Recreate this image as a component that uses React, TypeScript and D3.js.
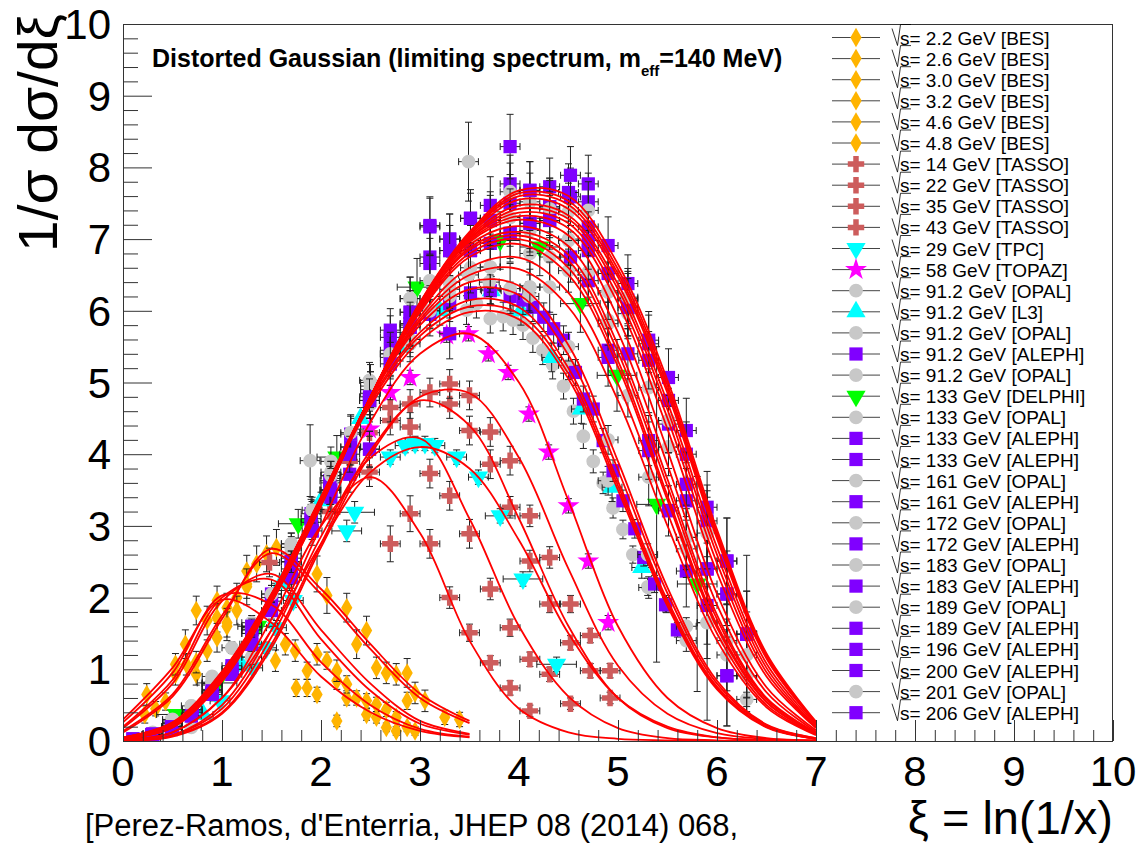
import React from 'react';
import * as d3 from 'd3';

// ---------------- axes ----------------
const X_TICKS = [0, 1, 2, 3, 4, 5, 6, 7, 8, 9, 10];
const Y_TICKS = [0, 1, 2, 3, 4, 5, 6, 7, 8, 9, 10];

const FIT_GRID_BES = [0, 0.5, 1, 1.5, 2, 2.5, 3, 3.5];
const FIT_GRID = [0, 0.5, 1, 1.5, 2, 2.5, 3, 3.5, 4, 4.5, 5, 5.5, 6, 6.5, 7];

const FIT_BES_2_2 = [0.3, 1.02, 1.97, 1.65, 0.9, 0.4, 0.14, 0.05];
const FIT_BES_2_6 = [0.26, 0.95, 2.03, 1.9, 1.1, 0.5, 0.17, 0.06];
const FIT_BES_3_0 = [0.2, 0.85, 2.0, 2.25, 1.42, 0.7, 0.24, 0.09];
const FIT_BES_3_2 = [0.18, 0.8, 1.95, 2.33, 1.55, 0.8, 0.28, 0.1];
const FIT_BES_4_6 = [0.14, 0.65, 1.75, 2.62, 2.05, 1.28, 0.6, 0.25];
const FIT_BES_4_8 = [0.12, 0.62, 1.7, 2.68, 2.12, 1.35, 0.66, 0.28];

const FIT_TASSO_14 = [0.02, 0.12, 0.6, 1.7, 3.0, 3.68, 2.9, 1.4, 0.45, 0.12, 0.03, 0.01, 0, 0, 0];
const FIT_TASSO_22 = [0.01, 0.08, 0.45, 1.45, 2.85, 3.95, 4.22, 3.1, 1.6, 0.62, 0.18, 0.04, 0.01, 0, 0];
const FIT_TASSO_35 = [0.01, 0.07, 0.4, 1.35, 2.75, 4.05, 4.75, 4.4, 3.1, 1.6, 0.6, 0.18, 0.05, 0.01, 0];
const FIT_TASSO_43 = [0.01, 0.06, 0.38, 1.3, 2.7, 4.0, 4.8, 4.85, 3.95, 2.4, 1.05, 0.38, 0.11, 0.03, 0.01];
const FIT_TPC_29 = [0.01, 0.12, 0.6, 1.55, 2.75, 3.75, 4.1, 3.8, 2.8, 1.5, 0.6, 0.2, 0.05, 0.01, 0];
const FIT_TOPAZ_58 = [0.01, 0.08, 0.5, 1.55, 3.0, 4.45, 5.4, 5.68, 5.0, 3.35, 1.6, 0.6, 0.18, 0.04, 0.01];

const FIT_OPAL_91_A = [0.05, 0.26, 0.97, 2.05, 3.38, 4.68, 5.58, 5.98, 5.88, 5.05, 3.5, 1.88, 0.72, 0.19, 0.03];
const FIT_L3_91 = [0.05, 0.25, 0.96, 2.05, 3.4, 4.72, 5.65, 6.06, 5.96, 5.12, 3.56, 1.92, 0.74, 0.2, 0.03];
const FIT_OPAL_91_B = [0.05, 0.25, 0.95, 2.04, 3.4, 4.75, 5.7, 6.15, 6.05, 5.2, 3.62, 1.96, 0.76, 0.2, 0.03];
const FIT_ALEPH_91 = [0.04, 0.24, 0.94, 2.03, 3.4, 4.78, 5.8, 6.3, 6.22, 5.38, 3.78, 2.06, 0.8, 0.22, 0.04];
const FIT_OPAL_91_C = [0.04, 0.24, 0.93, 2.02, 3.39, 4.78, 5.85, 6.4, 6.35, 5.52, 3.9, 2.14, 0.84, 0.23, 0.04];
const FIT_DELPHI_133 = [0.04, 0.23, 0.92, 2.01, 3.37, 4.78, 5.88, 6.5, 6.58, 6.05, 4.75, 3.0, 1.4, 0.47, 0.08];
const FIT_OPAL_133 = [0.04, 0.23, 0.91, 2.0, 3.36, 4.79, 5.92, 6.6, 6.74, 6.25, 4.98, 3.18, 1.5, 0.5, 0.09];
const FIT_ALEPH_133_A = [0.04, 0.22, 0.9, 2.0, 3.35, 4.8, 5.98, 6.75, 6.93, 6.5, 5.22, 3.36, 1.58, 0.54, 0.1];
const FIT_ALEPH_133_B = [0.04, 0.22, 0.9, 1.99, 3.35, 4.8, 6.0, 6.8, 7.0, 6.6, 5.3, 3.42, 1.62, 0.55, 0.1];
const FIT_OPAL_161 = [0.04, 0.22, 0.89, 1.99, 3.34, 4.8, 6.02, 6.85, 7.05, 6.7, 5.42, 3.55, 1.7, 0.58, 0.11];
const FIT_ALEPH_161 = [0.04, 0.21, 0.89, 1.98, 3.34, 4.8, 6.03, 6.88, 7.1, 6.78, 5.52, 3.65, 1.76, 0.6, 0.12];
const FIT_OPAL_172 = [0.04, 0.21, 0.88, 1.98, 3.33, 4.8, 6.05, 6.92, 7.18, 6.9, 5.7, 3.85, 1.9, 0.68, 0.13];
const FIT_ALEPH_172 = [0.03, 0.21, 0.87, 1.97, 3.32, 4.8, 6.07, 6.96, 7.27, 7.05, 5.9, 4.05, 2.05, 0.75, 0.15];
const FIT_OPAL_183 = [0.03, 0.2, 0.86, 1.96, 3.31, 4.8, 6.08, 6.98, 7.32, 7.15, 6.1, 4.35, 2.35, 0.9, 0.18];
const FIT_ALEPH_183 = [0.03, 0.2, 0.86, 1.96, 3.31, 4.8, 6.09, 7.0, 7.37, 7.22, 6.2, 4.5, 2.48, 0.96, 0.19];
const FIT_OPAL_189 = [0.03, 0.2, 0.86, 1.95, 3.3, 4.8, 6.09, 7.01, 7.42, 7.28, 6.3, 4.62, 2.6, 1.02, 0.2];
const FIT_ALEPH_189 = [0.03, 0.2, 0.85, 1.95, 3.3, 4.8, 6.1, 7.03, 7.47, 7.33, 6.37, 4.72, 2.7, 1.08, 0.22];
const FIT_ALEPH_196 = [0.03, 0.2, 0.85, 1.95, 3.3, 4.8, 6.1, 7.05, 7.55, 7.42, 6.47, 4.85, 2.82, 1.15, 0.24];
const FIT_ALEPH_200 = [0.03, 0.19, 0.84, 1.94, 3.29, 4.8, 6.11, 7.07, 7.6, 7.48, 6.52, 4.9, 2.86, 1.17, 0.25];
const FIT_OPAL_201 = [0.03, 0.19, 0.84, 1.94, 3.29, 4.8, 6.11, 7.08, 7.64, 7.53, 6.58, 4.96, 2.9, 1.2, 0.26];
const FIT_ALEPH_206 = [0.02, 0.19, 0.83, 1.93, 3.28, 4.8, 6.12, 7.1, 7.68, 7.6, 6.65, 5.03, 2.95, 1.22, 0.27];

// ---------------- measured points: [xi, value, yError, (xError)] ----------------
const BES_2_2 = [[0.22, 0.37, 0.12], [0.53, 0.93, 0.15], [0.74, 1.82, 0.2], [0.95, 1.96, 0.2], [1.15, 2.0, 0.2], [1.54, 1.12, 0.15], [1.75, 0.74, 0.12], [1.96, 0.65, 0.1], [2.16, 0.28, 0.08], [2.46, 0.37, 0.08], [2.66, 0.19, 0.06], [2.87, 0.19, 0.06]];
const BES_2_6 = [[0.24, 0.65, 0.15], [0.64, 1.07, 0.15], [0.85, 1.68, 0.2], [1.05, 1.86, 0.2], [1.25, 2.19, 0.2], [1.74, 1.26, 0.15], [1.86, 0.74, 0.12], [2.06, 1.12, 0.12], [2.26, 0.6, 0.1], [2.56, 0.33, 0.08], [2.76, 0.14, 0.06], [2.95, 0.14, 0.06]];
const BES_3_0 = [[0.53, 1.07, 0.15], [0.74, 0.93, 0.15], [0.95, 1.72, 0.2], [1.15, 1.82, 0.2], [1.25, 2.37, 0.22], [1.64, 1.35, 0.15], [1.86, 0.98, 0.12], [2.16, 0.84, 0.12], [2.36, 0.6, 0.1], [2.56, 0.51, 0.1], [2.76, 0.33, 0.08]];
const BES_3_2 = [[0.63, 1.35, 0.2], [0.85, 1.26, 0.15], [1.05, 1.65, 0.2], [1.35, 2.47, 0.25], [1.96, 1.21, 0.15], [2.16, 0.98, 0.15], [2.26, 0.79, 0.12], [2.46, 0.56, 0.1], [2.66, 0.44, 0.1], [2.87, 0.56, 0.12]];
const BES_4_6 = [[0.43, 0.55, 0.12], [0.74, 1.1, 0.15], [1.05, 1.6, 0.2], [1.45, 2.61, 0.25], [2.06, 2.03, 0.25], [2.36, 1.35, 0.2], [2.66, 0.95, 0.15], [2.87, 0.95, 0.2], [2.95, 0.67, 0.15], [3.25, 0.33, 0.1]];
const BES_4_8 = [[0.33, 0.45, 0.1], [0.95, 1.44, 0.2], [1.25, 2.15, 0.25], [1.55, 2.7, 0.25], [1.96, 2.33, 0.25], [2.26, 1.86, 0.2], [2.46, 1.54, 0.2], [2.56, 1.02, 0.15], [2.76, 0.93, 0.15], [3.05, 0.56, 0.15], [3.4, 0.3, 0.1]];

const TASSO_14 = [[1.28, 1.35, 0.15], [1.68, 2.3, 0.2], [2.70, 2.75, 0.25], [2.90, 3.17, 0.25], [3.10, 2.75, 0.2], [3.30, 2.0, 0.15], [3.50, 1.51, 0.12], [3.71, 1.09, 0.1], [3.91, 0.74, 0.1], [4.11, 0.42, 0.08]];
const TASSO_22 = [[1.48, 2.49, 0.2], [2.09, 3.2, 0.2], [2.49, 3.75, 0.2], [3.10, 3.73, 0.2], [3.30, 3.42, 0.2], [3.50, 2.89, 0.2], [3.71, 2.12, 0.15], [3.91, 1.58, 0.12], [4.11, 1.14, 0.1], [4.31, 0.93, 0.1], [4.52, 0.52, 0.08]];
const TASSO_35 = [[2.29, 3.9, 0.2], [2.49, 4.3, 0.2], [2.70, 4.47, 0.2], [2.90, 4.38, 0.2], [3.30, 4.7, 0.2], [3.50, 4.33, 0.2], [3.71, 3.86, 0.2], [3.91, 3.26, 0.15], [4.11, 2.51, 0.15], [4.31, 1.91, 0.12], [4.52, 1.37, 0.1], [4.72, 0.98, 0.1], [4.92, 0.6, 0.08]];
const TASSO_43 = [[2.70, 4.65, 0.2], [2.90, 4.7, 0.2], [3.10, 4.86, 0.2], [3.30, 4.98, 0.2], [3.50, 4.82, 0.2], [3.71, 4.31, 0.2], [3.91, 3.91, 0.2], [4.11, 3.14, 0.15], [4.31, 2.56, 0.15], [4.52, 1.91, 0.12], [4.72, 1.47, 0.1], [4.92, 0.98, 0.1]];
const TPC_29 = [[0.98, 0.56, 0.05], [1.31, 1.02, 0.08], [1.45, 1.3, 0.08], [1.55, 1.58, 0.1], [1.72, 1.96, 0.1], [2.26, 2.93, 0.15, 0.15], [2.34, 3.19, 0.15, 0.2], [2.70, 3.96, 0.1], [2.85, 4.12, 0.1], [2.95, 4.15, 0.1], [3.05, 4.15, 0.1], [3.15, 4.12, 0.1], [3.37, 3.96, 0.1], [3.59, 3.68, 0.1], [3.81, 3.14, 0.1, 0.15], [4.04, 2.26, 0.1, 0.2], [4.38, 1.07, 0.1, 0.2]];
const TOPAZ_58 = [[2.49, 4.35, 0.1], [2.70, 4.86, 0.1], [2.90, 5.07, 0.1], [3.27, 5.66, 0.1], [3.49, 5.68, 0.1], [3.69, 5.40, 0.1], [3.89, 5.14, 0.1], [4.10, 4.56, 0.1], [4.30, 4.03, 0.1], [4.50, 3.28, 0.1], [4.70, 2.51, 0.1], [4.90, 1.65, 0.1]];

const OPAL_91_A = [[0.3, 0.12, 0.02], [0.49, 0.3, 0.03], [0.69, 0.49, 0.04], [0.9, 0.84, 0.05], [1.1, 1.3, 0.06], [1.3, 1.58, 0.07], [1.5, 2.05, 0.08], [1.7, 2.61, 0.1], [1.91, 3.22, 0.12], [2.1, 3.7, 0.12], [2.3, 4.2, 0.15], [2.5, 4.7, 0.15], [2.7, 5.35, 0.15], [2.9, 5.54, 0.18], [3.1, 5.96, 0.2], [3.3, 6.05, 0.2], [3.47, 6.01, 0.2], [3.57, 6.1, 0.2], [3.71, 5.89, 0.2], [3.84, 5.92, 0.2], [3.94, 5.87, 0.2], [4.04, 5.8, 0.2], [4.14, 5.62, 0.2], [4.24, 5.45, 0.2], [4.34, 5.25, 0.2], [4.45, 4.95, 0.18], [4.55, 4.6, 0.18], [4.65, 4.25, 0.17], [4.75, 3.9, 0.16], [4.85, 3.6, 0.15], [4.95, 3.25, 0.14], [5.05, 2.95, 0.13], [5.15, 2.6, 0.12], [5.3, 2.15, 0.12], [5.49, 1.91, 0.12]];
const L3_91 = [[0.81, 0.37, 0.04], [1.2, 1.05, 0.07], [1.6, 2.2, 0.1], [2.0, 3.35, 0.12], [2.4, 4.5, 0.15], [2.8, 5.5, 0.2], [3.2, 6.0, 0.2], [3.72, 6.28, 0.2], [4.02, 6.0, 0.2], [4.33, 5.35, 0.2], [4.63, 4.63, 0.2], [4.94, 3.54, 0.2], [5.24, 2.42, 0.15]];
const OPAL_91_B = [[0.69, 0.19, 0.03], [1.3, 1.17, 0.06], [1.89, 3.91, 0.5], [2.3, 4.1, 0.15], [2.7, 5.4, 0.2], [3.1, 6.0, 0.2], [3.3, 6.4, 0.2], [3.71, 6.3, 0.2], [4.11, 6.33, 0.25], [4.5, 5.24, 0.2], [4.9, 3.63, 0.2], [5.31, 2.14, 0.15], [5.69, 1.4, 0.15], [6.3, 0.58, 0.1]];
const ALEPH_91 = [[0.1, 0.03, 0.01], [0.29, 0.09, 0.02], [0.49, 0.16, 0.02], [0.69, 0.35, 0.03], [0.9, 0.65, 0.04], [1.1, 0.93, 0.05], [1.3, 1.35, 0.06], [1.5, 1.82, 0.08], [1.7, 2.28, 0.1], [1.91, 2.93, 0.12], [2.09, 3.63, 0.12], [2.29, 4.0, 0.15], [2.49, 4.75, 0.15], [2.7, 5.26, 0.18], [2.9, 5.77, 0.18], [3.1, 5.95, 0.2], [3.3, 6.1, 0.2], [3.51, 6.25, 0.2], [3.71, 6.28, 0.2], [3.91, 6.2, 0.2], [4.04, 6.15, 0.2], [4.14, 6.05, 0.2], [4.25, 5.91, 0.2], [4.35, 5.75, 0.2], [4.45, 5.59, 0.2], [4.57, 5.14, 0.18], [4.65, 4.77, 0.18], [4.75, 4.63, 0.18], [4.85, 4.19, 0.17], [4.95, 3.77, 0.15], [5.05, 3.35, 0.15], [5.17, 2.96, 0.13], [5.26, 2.56, 0.12], [5.37, 2.19, 0.12], [5.48, 1.9, 0.1], [5.6, 1.55, 0.1]];
const OPAL_91_C = [[0.5, 0.25, 0.03], [0.9, 0.8, 0.05], [1.3, 1.5, 0.07], [1.7, 2.55, 0.1], [2.1, 3.5, 0.12], [2.5, 4.85, 0.15], [2.9, 5.6, 0.18], [3.3, 6.2, 0.2], [3.7, 6.4, 0.2], [4.1, 6.2, 0.2], [4.5, 5.5, 0.2], [4.9, 4.2, 0.2], [5.3, 2.6, 0.15], [5.69, 1.6, 0.12]];
const DELPHI_133 = [[0.18, 0.03, 0.02], [0.54, 0.37, 0.05], [0.95, 0.81, 0.07], [1.36, 1.6, 0.1], [1.77, 3.03, 0.2], [2.16, 3.96, 0.3], [2.97, 6.33, 0.4], [3.81, 6.98, 0.4], [4.21, 6.89, 0.4], [4.62, 6.1, 0.4], [4.99, 5.1, 0.5], [5.39, 3.3, 2.2], [5.8, 2.19, 1.5]];
const OPAL_133 = [[0.5, 0.28, 0.03], [0.9, 0.82, 0.05], [1.3, 1.6, 0.08], [1.7, 2.7, 0.12], [2.1, 3.75, 0.15], [2.5, 4.95, 0.2], [2.9, 5.54, 0.25], [3.3, 6.3, 0.3], [3.71, 6.61, 0.3], [4.11, 6.8, 0.3], [4.5, 6.56, 0.3], [4.9, 5.82, 0.3], [5.1, 4.82, 0.3], [5.51, 4.1, 0.3], [5.9, 1.65, 0.3], [6.3, 0.91, 0.3]];
const ALEPH_133_A = [[0.3, 0.1, 0.02], [0.7, 0.44, 0.04], [1.1, 1.05, 0.08], [1.5, 2.05, 0.12], [1.9, 3.17, 0.2], [2.3, 4.28, 0.25], [2.7, 5.63, 0.3], [3.1, 6.66, 0.35], [3.51, 6.84, 0.35], [3.91, 7.08, 0.35], [4.31, 7.26, 0.35], [4.7, 6.42, 0.35], [5.1, 5.4, 0.35], [5.51, 3.21, 0.35], [5.9, 1.89, 1.6], [6.1, 0.91, 0.7]];
const ALEPH_133_B = [[0.5, 0.2, 0.03], [0.9, 0.72, 0.06], [1.3, 1.55, 0.1], [1.7, 2.5, 0.15], [2.09, 3.5, 0.2], [2.49, 4.07, 0.25], [2.9, 5.82, 0.3], [3.3, 5.68, 0.35], [3.71, 6.94, 0.35], [4.11, 7.22, 0.35], [4.52, 6.75, 0.35], [4.9, 5.45, 0.35], [5.31, 4.19, 0.35], [5.69, 2.37, 0.5], [6.1, 2.05, 0.5]];
const OPAL_161 = [[0.5, 0.3, 0.04], [0.9, 0.9, 0.07], [1.3, 1.65, 0.1], [1.7, 2.75, 0.15], [2.1, 3.9, 0.2], [2.49, 5.03, 0.25], [2.9, 6.17, 0.3], [3.51, 6.98, 0.35], [4.11, 7.12, 0.35], [4.31, 6.75, 0.35], [4.7, 6.54, 0.35], [5.1, 5.96, 0.35], [5.51, 4.47, 0.35], [5.69, 2.84, 0.4], [6.1, 1.4, 0.5]];
const ALEPH_161 = [[0.3, 0.08, 0.02], [0.7, 0.42, 0.05], [1.1, 1.0, 0.08], [1.5, 1.95, 0.12], [1.9, 3.05, 0.18], [2.29, 3.72, 0.25], [2.7, 5.45, 0.3], [3.1, 6.75, 0.35], [3.51, 7.29, 0.35], [3.91, 7.5, 0.4], [4.31, 7.45, 0.4], [4.7, 6.84, 0.4], [5.1, 6.05, 0.4], [5.51, 4.75, 0.4], [5.9, 2.4, 0.5], [6.3, 1.49, 1.1]];
const OPAL_172 = [[0.5, 0.22, 0.03], [0.9, 0.78, 0.06], [1.3, 1.17, 0.1], [1.7, 2.61, 0.15], [2.1, 3.6, 0.2], [2.7, 5.35, 0.3], [3.1, 6.42, 0.35], [3.51, 6.6, 0.35], [3.91, 6.31, 0.35], [4.11, 6.33, 0.35], [4.5, 6.98, 0.35], [4.9, 6.26, 0.35], [5.31, 4.93, 0.35], [5.69, 2.68, 0.4], [6.1, 1.2, 0.5]];
const ALEPH_172 = [[0.5, 0.18, 0.03], [0.9, 0.68, 0.06], [1.3, 1.5, 0.1], [1.7, 2.4, 0.15], [2.1, 3.4, 0.2], [2.49, 4.75, 0.25], [2.9, 5.98, 0.3], [3.3, 6.84, 0.35], [3.71, 7.26, 0.35], [4.11, 7.68, 0.4], [4.52, 7.59, 0.4], [4.9, 6.52, 0.4], [5.31, 5.54, 0.4], [5.69, 3.35, 0.45], [6.1, 2.51, 0.6]];
const OPAL_183 = [[0.5, 0.25, 0.04], [0.9, 0.8, 0.07], [1.3, 1.58, 0.1], [1.7, 2.7, 0.15], [2.1, 3.7, 0.2], [2.5, 4.9, 0.25], [2.9, 5.8, 0.3], [3.3, 6.4, 0.35], [3.71, 6.61, 0.35], [4.31, 6.33, 0.35], [4.5, 7.0, 0.35], [4.9, 5.87, 0.35], [5.1, 6.17, 0.35], [5.51, 4.1, 0.4], [5.9, 1.65, 0.5]];
const ALEPH_183 = [[0.3, 0.09, 0.02], [0.7, 0.4, 0.05], [1.1, 1.0, 0.08], [1.5, 2.0, 0.12], [1.9, 3.1, 0.2], [2.3, 4.1, 0.25], [2.7, 5.73, 0.3], [3.1, 7.17, 0.4], [3.51, 6.84, 0.4], [3.91, 7.77, 0.4], [4.31, 7.73, 0.4], [4.7, 7.17, 0.4], [5.1, 6.15, 0.4], [5.51, 5.07, 0.4], [5.9, 3.07, 0.5], [6.3, 1.49, 0.6]];
const OPAL_189 = [[0.69, 0.49, 0.05], [1.1, 1.3, 0.08], [1.5, 2.05, 0.12], [1.91, 3.22, 0.18], [2.3, 4.3, 0.25], [2.7, 5.4, 0.3], [3.1, 6.0, 0.35], [3.49, 6.5, 0.35], [3.91, 7.66, 0.4], [4.11, 7.52, 0.4], [4.5, 7.38, 0.4], [4.9, 6.28, 0.4], [5.31, 3.68, 0.4], [5.69, 2.84, 0.45], [6.3, 0.91, 0.5]];
const ALEPH_189 = [[0.49, 0.16, 0.03], [0.9, 0.65, 0.06], [1.3, 1.35, 0.1], [1.7, 2.28, 0.15], [2.09, 3.63, 0.2], [2.49, 4.07, 0.25], [2.9, 5.77, 0.3], [3.3, 7.0, 0.35], [3.71, 7.47, 0.4], [4.11, 7.22, 0.4], [4.5, 7.65, 0.4], [4.7, 7.52, 0.4], [5.1, 6.38, 0.4], [5.31, 5.31, 0.4], [5.69, 4.33, 0.45], [5.9, 3.26, 0.5], [6.3, 1.49, 0.6]];
const ALEPH_196 = [[0.29, 0.09, 0.02], [0.69, 0.35, 0.05], [1.1, 0.93, 0.08], [1.5, 1.82, 0.12], [1.91, 2.93, 0.2], [2.29, 4.0, 0.25], [2.7, 5.26, 0.3], [3.1, 7.19, 0.4], [3.51, 7.29, 0.4], [3.91, 7.08, 0.4], [4.31, 7.45, 0.4], [4.7, 7.77, 0.4], [5.1, 6.05, 0.4], [5.51, 4.42, 0.4], [5.9, 2.4, 0.5], [6.1, 2.05, 0.6]];
const ALEPH_200 = [[0.49, 0.2, 0.03], [0.9, 0.7, 0.06], [1.3, 1.55, 0.1], [1.7, 2.5, 0.15], [2.1, 3.5, 0.2], [2.49, 4.75, 0.25], [2.9, 5.98, 0.3], [3.3, 7.0, 0.35], [3.71, 7.26, 0.4], [4.11, 7.68, 0.4], [4.52, 7.89, 0.4], [4.9, 6.91, 0.4], [5.31, 5.59, 0.4], [5.69, 4.0, 0.45], [6.1, 2.51, 0.6]];
const OPAL_201 = [[0.5, 0.25, 0.04], [0.9, 0.8, 0.07], [1.3, 1.58, 0.1], [1.7, 2.75, 0.15], [2.1, 3.7, 0.2], [2.5, 5.0, 0.25], [2.9, 6.17, 0.3], [3.49, 8.08, 0.55], [3.91, 7.3, 0.4], [4.31, 7.42, 0.4], [4.7, 7.4, 0.4], [5.1, 6.19, 0.4], [5.51, 4.47, 0.45], [5.9, 2.9, 0.5], [6.3, 1.2, 0.6]];
const ALEPH_206 = [[0.1, 0.03, 0.01], [0.49, 0.2, 0.03], [0.9, 0.7, 0.06], [1.3, 1.6, 0.1], [1.7, 2.5, 0.15], [2.09, 3.5, 0.2], [2.49, 4.8, 0.25], [2.9, 5.82, 0.3], [3.3, 6.84, 0.35], [3.91, 8.29, 0.45], [4.31, 7.26, 0.4], [4.7, 6.98, 0.4], [4.9, 5.35, 0.4], [5.31, 4.05, 0.4], [5.69, 3.58, 0.45], [6.1, 0.91, 0.7]];

// ---------------- colours ----------------
const C_BES = '#ffb400';
const C_TASSO = '#cd5c5c';
const C_CYAN = '#00ffff';
const C_MAG = '#ff00ff';
const C_OPAL = '#c8c8c8';
const C_ALEPH = '#8000ff';
const C_DELPHI = '#00ff00';

type Series = { label: string; marker: string; color: string; data: number[][]; ex: number; fit: number[]; grid: number[] };

const S = (label: string, marker: string, color: string, data: number[][], ex: number, fit: number[], grid: number[]): Series => ({ label, marker, color, data, ex, fit, grid });

const SERIES: Series[] = [
  S('2.2 GeV [BES]', 'diamond', C_BES, BES_2_2, 0, FIT_BES_2_2, FIT_GRID_BES),
  S('2.6 GeV [BES]', 'diamond', C_BES, BES_2_6, 0, FIT_BES_2_6, FIT_GRID_BES),
  S('3.0 GeV [BES]', 'diamond', C_BES, BES_3_0, 0, FIT_BES_3_0, FIT_GRID_BES),
  S('3.2 GeV [BES]', 'diamond', C_BES, BES_3_2, 0, FIT_BES_3_2, FIT_GRID_BES),
  S('4.6 GeV [BES]', 'diamond', C_BES, BES_4_6, 0, FIT_BES_4_6, FIT_GRID_BES),
  S('4.8 GeV [BES]', 'diamond', C_BES, BES_4_8, 0, FIT_BES_4_8, FIT_GRID_BES),
  S('14 GeV [TASSO]', 'cross', C_TASSO, TASSO_14, 0.1, FIT_TASSO_14, FIT_GRID),
  S('22 GeV [TASSO]', 'cross', C_TASSO, TASSO_22, 0.1, FIT_TASSO_22, FIT_GRID),
  S('35 GeV [TASSO]', 'cross', C_TASSO, TASSO_35, 0.1, FIT_TASSO_35, FIT_GRID),
  S('43 GeV [TASSO]', 'cross', C_TASSO, TASSO_43, 0.1, FIT_TASSO_43, FIT_GRID),
  S('29 GeV [TPC]', 'tdown', C_CYAN, TPC_29, 0.1, FIT_TPC_29, FIT_GRID),
  S('58 GeV [TOPAZ]', 'star', C_MAG, TOPAZ_58, 0, FIT_TOPAZ_58, FIT_GRID),
  S('91.2 GeV [OPAL]', 'circle', C_OPAL, OPAL_91_A, 0.05, FIT_OPAL_91_A, FIT_GRID),
  S('91.2 GeV [L3]', 'tup', C_CYAN, L3_91, 0.1, FIT_L3_91, FIT_GRID),
  S('91.2 GeV [OPAL]', 'circle', C_OPAL, OPAL_91_B, 0.1, FIT_OPAL_91_B, FIT_GRID),
  S('91.2 GeV [ALEPH]', 'square', C_ALEPH, ALEPH_91, 0.05, FIT_ALEPH_91, FIT_GRID),
  S('91.2 GeV [OPAL]', 'circle', C_OPAL, OPAL_91_C, 0.1, FIT_OPAL_91_C, FIT_GRID),
  S('133 GeV [DELPHI]', 'tdown', C_DELPHI, DELPHI_133, 0.2, FIT_DELPHI_133, FIT_GRID),
  S('133 GeV [OPAL]', 'circle', C_OPAL, OPAL_133, 0.1, FIT_OPAL_133, FIT_GRID),
  S('133 GeV [ALEPH]', 'square', C_ALEPH, ALEPH_133_A, 0.1, FIT_ALEPH_133_A, FIT_GRID),
  S('133 GeV [ALEPH]', 'square', C_ALEPH, ALEPH_133_B, 0.1, FIT_ALEPH_133_B, FIT_GRID),
  S('161 GeV [OPAL]', 'circle', C_OPAL, OPAL_161, 0.1, FIT_OPAL_161, FIT_GRID),
  S('161 GeV [ALEPH]', 'square', C_ALEPH, ALEPH_161, 0.1, FIT_ALEPH_161, FIT_GRID),
  S('172 GeV [OPAL]', 'circle', C_OPAL, OPAL_172, 0.1, FIT_OPAL_172, FIT_GRID),
  S('172 GeV [ALEPH]', 'square', C_ALEPH, ALEPH_172, 0.1, FIT_ALEPH_172, FIT_GRID),
  S('183 GeV [OPAL]', 'circle', C_OPAL, OPAL_183, 0.1, FIT_OPAL_183, FIT_GRID),
  S('183 GeV [ALEPH]', 'square', C_ALEPH, ALEPH_183, 0.1, FIT_ALEPH_183, FIT_GRID),
  S('189 GeV [OPAL]', 'circle', C_OPAL, OPAL_189, 0.1, FIT_OPAL_189, FIT_GRID),
  S('189 GeV [ALEPH]', 'square', C_ALEPH, ALEPH_189, 0.1, FIT_ALEPH_189, FIT_GRID),
  S('196 GeV [ALEPH]', 'square', C_ALEPH, ALEPH_196, 0.1, FIT_ALEPH_196, FIT_GRID),
  S('200 GeV [ALEPH]', 'square', C_ALEPH, ALEPH_200, 0.1, FIT_ALEPH_200, FIT_GRID),
  S('201 GeV [OPAL]', 'circle', C_OPAL, OPAL_201, 0.1, FIT_OPAL_201, FIT_GRID),
  S('206 GeV [ALEPH]', 'square', C_ALEPH, ALEPH_206, 0.1, FIT_ALEPH_206, FIT_GRID),
];

// ---------------- layout ----------------
const W = 1137;
const H = 843;
const PL = 123, PR = 1113, PT = 24, PB = 741;
const FONT = "'Liberation Sans', Arial, Helvetica, sans-serif";

const SYM: Record<string, d3.SymbolType> = {
  circle: d3.symbolCircle,
  square: d3.symbolSquare,
  diamond: d3.symbolDiamond,
  cross: d3.symbolCross,
  star: d3.symbolStar,
  tup: d3.symbolTriangle,
  tdown: d3.symbolTriangle,
};
const SYM_SIZE: Record<string, number> = { circle: 150, square: 175, diamond: 110, cross: 150, star: 150, tup: 160, tdown: 160 };

function markerPath(kind: string) {
  return d3.symbol().type(SYM[kind]).size(SYM_SIZE[kind])() || '';
}

export default function App() {
  const x = d3.scaleLinear().domain([0, 10]).range([PL, PR]);
  const y = d3.scaleLinear().domain([0, 10]).range([PB, PT]);
  const line = d3
    .line<number[]>()
    .x((d) => x(d[0]))
    .y((d) => y(d[1]))
    .curve(d3.curveCatmullRom.alpha(0.5));

  const cap = 3.5;
  const errPath = (s: Series) => {
    let p = '';
    for (const d of s.data) {
      const cx = x(d[0]);
      const cy = y(d[1]);
      const ey = d[2] || 0;
      const ex = d.length > 3 ? d[3] : s.ex;
      if (ey > 0) {
        const y1 = y(d[1] + ey);
        const y2 = y(Math.max(0, d[1] - ey));
        p += `M${cx},${y1}V${y2}M${cx - cap},${y1}H${cx + cap}M${cx - cap},${y2}H${cx + cap}`;
      }
      if (ex > 0) {
        const x1 = x(d[0] - ex);
        const x2 = x(d[0] + ex);
        p += `M${x1},${cy}H${x2}M${x1},${cy - cap}V${cy + cap}M${x2},${cy - cap}V${cy + cap}`;
      }
    }
    return p;
  };

  const minorX = d3.range(0, 50).map((i) => i * 0.2).filter((v) => Math.abs(v - Math.round(v)) > 1e-6);
  const minorY = minorX;

  const legendY = (i: number) => 37.5 + i * 21.1;

  return (
    <svg width={W} height={H} style={{ position: 'absolute', left: 0, top: 0, background: '#fff' }} fontFamily={FONT}>
      <defs>
        <clipPath id="plotclip">
          <rect x={PL} y={PT} width={PR - PL} height={PB - PT} />
        </clipPath>
      </defs>
      <rect x={0} y={0} width={W} height={H} fill="#fff" />

      {/* data */}
      <g clipPath="url(#plotclip)">
        {SERIES.map((s, i) => (
          <g key={'s' + i}>
            <path d={errPath(s)} stroke="#222" strokeWidth={1} fill="none" />
            {s.data.map((d, j) => (
              <path
                key={j}
                d={markerPath(s.marker)}
                transform={`translate(${x(d[0])},${y(d[1])})${s.marker === 'tdown' ? ' rotate(180)' : ''}`}
                fill={s.color}
              />
            ))}
          </g>
        ))}
        {SERIES.map((s, i) => (
          <path
            key={'f' + i}
            d={line(s.grid.map((g, k) => [g, s.fit[k]])) || ''}
            stroke="#ff0000"
            strokeWidth={1.8}
            fill="none"
          />
        ))}
      </g>

      {/* frame */}
      <rect x={PL + 0.5} y={PT + 0.5} width={PR - PL - 1} height={PB - PT} fill="none" stroke="#333" strokeWidth={1} />

      {/* y axis ticks */}
      {Y_TICKS.map((v) => (
        <g key={'yt' + v}>
          <line x1={PL} x2={PL + 29} y1={y(v) + 0.5} y2={y(v) + 0.5} stroke="#333" />
          <text x={111} y={y(v) + 15} fontSize={42} textAnchor="end" fill="#000">
            {v}
          </text>
        </g>
      ))}
      {minorY.map((v, i) => (
        <line key={'ym' + i} x1={PL} x2={PL + 15} y1={y(v) + 0.5} y2={y(v) + 0.5} stroke="#333" />
      ))}

      {/* x axis ticks */}
      {X_TICKS.map((v) => (
        <g key={'xt' + v}>
          <line x1={x(v) + 0.5} x2={x(v) + 0.5} y1={PB} y2={PB - 21} stroke="#333" />
          <text x={x(v)} y={786} fontSize={42} textAnchor="middle" fill="#000">
            {v}
          </text>
        </g>
      ))}
      {minorX.map((v, i) => (
        <line key={'xm' + i} x1={x(v) + 0.5} x2={x(v) + 0.5} y1={PB} y2={PB - 11} stroke="#333" />
      ))}

      {/* titles */}
      <text x={152} y={67} fontSize={25} fontWeight="bold" fill="#000">
        Distorted Gaussian (limiting spectrum, m
        <tspan fontSize={15} dy={9}>eff</tspan>
        <tspan dy={-9}>=140 MeV)</tspan>
      </text>
      <text transform="translate(57,252) rotate(-90)" fontSize={55} textLength={238} lengthAdjust="spacingAndGlyphs" fill="#000">
        1/σ dσ/dξ
      </text>
      <text x={1113} y={834} fontSize={47} textAnchor="end" fill="#000">
        ξ = ln(1/x)
      </text>
      <text x={85} y={836} fontSize={31} fill="#000">
        [Perez-Ramos, d'Enterria, JHEP 08 (2014) 068,
      </text>

      {/* legend */}
      {SERIES.map((s, i) => {
        const cy = legendY(i);
        return (
          <g key={'l' + i}>
            <line x1={832} x2={880} y1={cy} y2={cy} stroke="#444" strokeWidth={1} />
            <path
              d={markerPath(s.marker)}
              transform={`translate(856,${cy})${s.marker === 'tdown' ? ' rotate(180)' : ''}`}
              fill={s.color}
            />
            <path d={`M892,${cy - 9}L897.5,${cy + 8}L900.5,${cy - 13}H911`} stroke="#000" strokeWidth={0.8} fill="none" />
            <text x={900} y={cy + 7} fontSize={19} fill="#000">
              {'s= ' + s.label}
            </text>
          </g>
        );
      })}
    </svg>
  );
}
